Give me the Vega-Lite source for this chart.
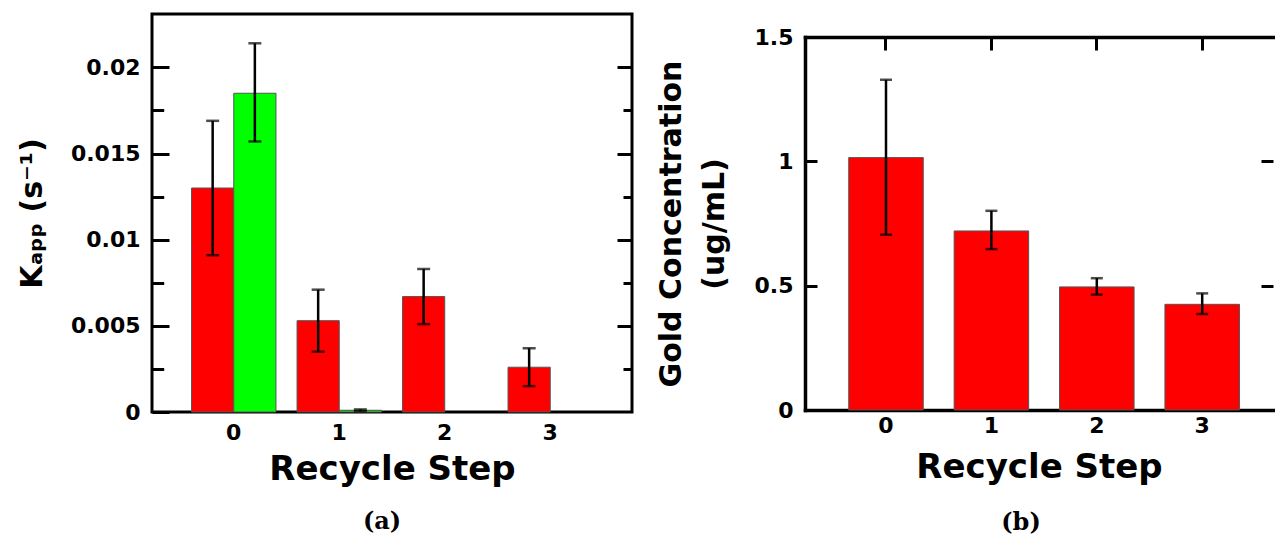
{
  "$schema": "https://vega.github.io/schema/vega-lite/v6.json",
  "background": "white",
  "padding": {"left": 15, "top": 12, "right": 0, "bottom": 0},
  "spacing": 21,
  "config": {
    "font": "DejaVu Sans",
    "view": {"stroke": "black", "strokeWidth": 3},
    "axis": {
      "labelFont": "DejaVu Sans", "labelFontWeight": "bold", "labelFontSize": 22, "labelColor": "black",
      "titleFont": "DejaVu Sans", "titleFontWeight": "bold", "titleColor": "black",
      "grid": false, "tickColor": "black", "tickWidth": 3, "domainColor": "black",
      "labelOverlap": false, "labelFlush": false
    }
  },
  "datasets": {
    "kapp": [
      {"step": "0", "series": "A", "value": 0.0130, "lo": 0.0091, "hi": 0.0169},
      {"step": "0", "series": "B", "value": 0.0185, "lo": 0.0157, "hi": 0.0214},
      {"step": "1", "series": "A", "value": 0.0053, "lo": 0.0035, "hi": 0.0071},
      {"step": "1", "series": "B", "value": 0.0001, "lo": 0.00005, "hi": 0.00015},
      {"step": "2", "series": "A", "value": 0.0067, "lo": 0.0051, "hi": 0.0083},
      {"step": "3", "series": "A", "value": 0.0026, "lo": 0.0015, "hi": 0.0037}
    ],
    "gold": [
      {"step": "0", "value": 1.015, "lo": 0.705, "hi": 1.328},
      {"step": "1", "value": 0.720, "lo": 0.647, "hi": 0.801},
      {"step": "2", "value": 0.495, "lo": 0.464, "hi": 0.530},
      {"step": "3", "value": 0.425, "lo": 0.386, "hi": 0.469}
    ]
  },
  "hconcat": [
    {
      "width": 480,
      "height": 398,
      "data": {"name": "kapp"},
      "title": {"text": "(a)", "orient": "bottom", "anchor": "middle", "frame": "group", "dx": -10, "offset": 24, "font": "DejaVu Serif", "fontSize": 24, "fontWeight": "bold", "color": "black"},
      "layer": [
        {
          "mark": {"type": "bar", "stroke": "#555555", "strokeWidth": 1},
          "encoding": {
            "x": {"field": "step", "type": "nominal", "scale": {"paddingInner": 0.2, "paddingOuter": 0.375},
                  "axis": {"orient": "bottom", "title": "Recycle Step", "ticks": false, "domain": false, "labelAngle": 0, "labelPadding": 10, "titleFontSize": 34, "titlePadding": 9}},
            "xOffset": {"field": "series", "type": "nominal", "scale": {"domain": ["A", "B"]}},
            "y": {"field": "value", "type": "quantitative", "scale": {"domain": [0, 0.0231], "nice": false, "zero": true},
                  "axis": {"orient": "left", "values": [0, 0.005, 0.01, 0.015, 0.02], "labelExpr": "'' + datum.value", "tickSize": -17, "labelPadding": 29, "domain": false, "title": "Kₐₚₚ (s⁻¹)", "titleFontSize": 30, "titlePadding": 23}},
            "color": {"field": "series", "type": "nominal", "scale": {"domain": ["A", "B"], "range": ["#ff0000", "#00ff00"]}, "legend": null}
          }
        },
        {
          "mark": {"type": "rule", "color": "black", "strokeWidth": 2.5},
          "encoding": {
            "x": {"field": "step", "type": "nominal", "scale": {"paddingInner": 0.2, "paddingOuter": 0.375}, "axis": null},
            "xOffset": {"field": "series", "type": "nominal", "scale": {"domain": ["A", "B"]}},
            "y": {"field": "lo", "type": "quantitative", "axis": {"orient": "left", "values": [0.0025, 0.0075, 0.0125, 0.0175], "tickSize": -11.7, "labels": false, "domain": false, "title": null}},
            "y2": {"field": "hi"}
          }
        },
        {
          "mark": {"type": "tick", "color": "black", "thickness": 2.5, "size": 13},
          "encoding": {
            "x": {"field": "step", "type": "nominal", "scale": {"paddingInner": 0.2, "paddingOuter": 0.375}, "axis": null},
            "xOffset": {"field": "series", "type": "nominal", "scale": {"domain": ["A", "B"]}},
            "y": {"field": "hi", "type": "quantitative", "axis": {"orient": "right", "values": [0.005, 0.01, 0.015, 0.02], "tickSize": -15, "labels": false, "domain": false, "title": null}}
          }
        },
        {
          "mark": {"type": "tick", "color": "black", "thickness": 2.5, "size": 13},
          "encoding": {
            "x": {"field": "step", "type": "nominal", "scale": {"paddingInner": 0.2, "paddingOuter": 0.375}, "axis": null},
            "xOffset": {"field": "series", "type": "nominal", "scale": {"domain": ["A", "B"]}},
            "y": {"field": "lo", "type": "quantitative", "axis": {"orient": "right", "values": [0.0025, 0.0075, 0.0125, 0.0175], "tickSize": -9, "labels": false, "domain": false, "title": null}}
          }
        }
      ],
      "resolve": {"axis": {"x": "independent", "y": "independent"}}
    },
    {
      "spacing": 0,
      "vconcat": [
        {
          "width": 10,
          "height": 12,
          "view": {"stroke": null},
          "data": {"values": []},
          "mark": "text",
          "encoding": {}
        },
        {
          "width": 468,
          "height": 373,
          "view": {"stroke": null},
          "data": {"name": "gold"},
          "title": {"text": "(b)", "orient": "bottom", "anchor": "middle", "frame": "group", "dx": -18, "offset": 27, "font": "DejaVu Serif", "fontSize": 24, "fontWeight": "bold", "color": "black"},
          "layer": [
            {
              "mark": {"type": "bar", "color": "#ff0000", "stroke": "#555555", "strokeWidth": 1},
              "encoding": {
                "x": {"field": "step", "type": "nominal", "scale": {"paddingInner": 0.293, "paddingOuter": 0.3666, "align": 0.566},
                      "axis": {"orient": "bottom", "title": "Recycle Step", "ticks": false, "domain": true, "domainWidth": 3.5, "domainCap": "square", "labelAngle": 0, "labelPadding": 5, "titleFontSize": 34, "titlePadding": 14}},
                "y": {"field": "value", "type": "quantitative", "scale": {"domain": [0, 1.5], "nice": false},
                      "axis": {"orient": "left", "values": [0, 0.5, 1, 1.5], "labelExpr": "'' + datum.value", "tickSize": -12, "labelPadding": 24, "domain": true, "domainWidth": 3.5, "domainCap": "square", "title": ["Gold Concentration", "(ug/mL)"], "titleFontSize": 30, "titleLineHeight": 43, "titlePadding": 25}}
              }
            },
            {
              "mark": {"type": "rule", "color": "black", "strokeWidth": 2.5},
              "encoding": {
                "x": {"field": "step", "type": "nominal", "scale": {"paddingInner": 0.293, "paddingOuter": 0.3666, "align": 0.566},
                      "axis": {"orient": "top", "ticks": true, "tickSize": -13, "labels": false, "domain": true, "domainWidth": 3.5, "domainCap": "square", "title": null}},
                "y": {"field": "lo", "type": "quantitative", "axis": {"orient": "right", "values": [0.5, 1], "tickSize": -12, "labels": false, "domain": false, "title": null}},
                "y2": {"field": "hi"}
              }
            },
            {
              "mark": {"type": "tick", "color": "black", "thickness": 2.5, "size": 12},
              "encoding": {
                "x": {"field": "step", "type": "nominal", "scale": {"paddingInner": 0.293, "paddingOuter": 0.3666, "align": 0.566}, "axis": null},
                "y": {"field": "hi", "type": "quantitative", "axis": null}
              }
            },
            {
              "mark": {"type": "tick", "color": "black", "thickness": 2.5, "size": 12},
              "encoding": {
                "x": {"field": "step", "type": "nominal", "scale": {"paddingInner": 0.293, "paddingOuter": 0.3666, "align": 0.566}, "axis": null},
                "y": {"field": "lo", "type": "quantitative", "axis": null}
              }
            }
          ],
          "resolve": {"axis": {"x": "independent", "y": "independent"}}
        }
      ]
    }
  ]
}
